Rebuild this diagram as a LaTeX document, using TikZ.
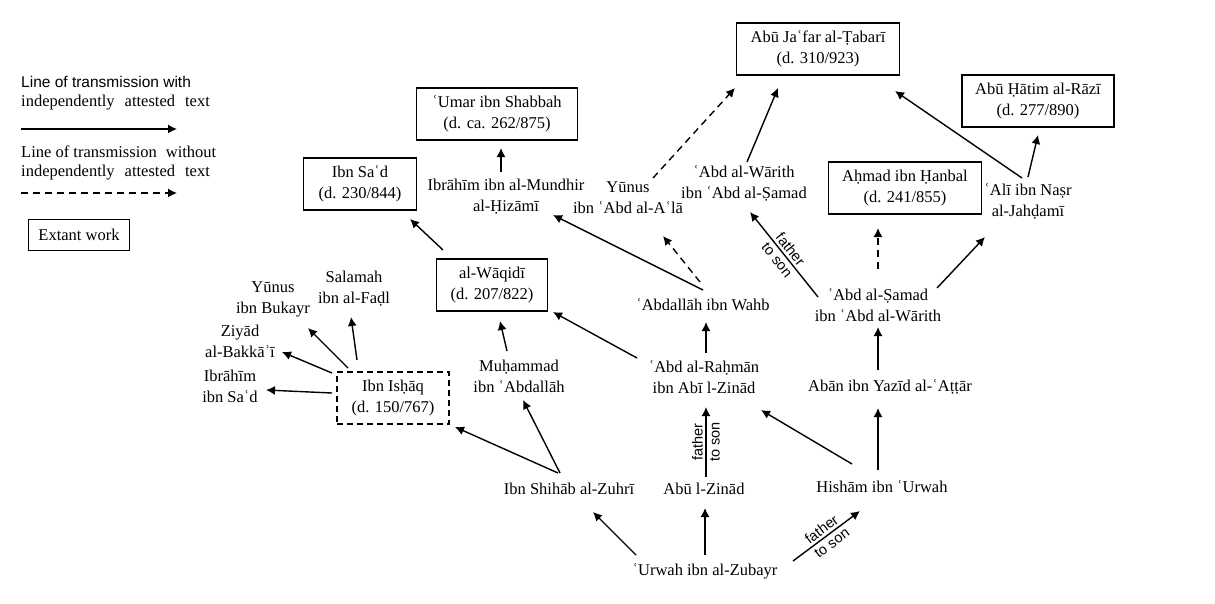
\documentclass[tikz,border=0pt]{standalone}
\usepackage{fontspec}
\setmainfont{Liberation Serif}
\setsansfont{Liberation Sans}
\usetikzlibrary{arrows.meta,calc}

\newcommand\namesize{\fontsize{16.5}{21}\selectfont}
\newcommand\kinsize{\fontsize{14.5}{17}\sffamily\selectfont}

\tikzset{
  person/.style={font=\namesize, align=center, inner sep=1pt},
  work/.style={person, draw, line width=1.5pt, minimum height=52},
  lostwork/.style={work, dash pattern=on 6pt off 4pt},
  link/.style={line width=1.4pt, -{Latex[length=9pt,width=9pt]}},
  guess/.style={link, dash pattern=on 7pt off 5pt},
  kin/.style={font=\kinsize, align=center, sloped, inner sep=0pt}
}

\begin{document}
\begin{tikzpicture}[x=1pt, y=-1pt]
\useasboundingbox (0,0) rectangle (1215,603);

\node[anchor=north west, align=left, inner sep=0pt, font=\fontsize{16.5}{19}\selectfont] (keyfull) at (21,76)
  {{\sffamily\fontsize{15.5}{19}\selectfont Line of transmission with}\\independently\hspace{10pt}attested\hspace{10pt}text};
\coordinate (fullA) at (21,129);
\coordinate (fullB) at (177,129);
\draw[link] (fullA) -- (fullB);
\node[anchor=north west, align=left, inner sep=0pt, font=\fontsize{16.5}{19}\selectfont] (keyguess) at (21,146)
  {Line of transmission\hspace{9pt}without\\independently\hspace{10pt}attested\hspace{10pt}text};
\coordinate (guessA) at (21,193);
\coordinate (guessB) at (177,193);
\draw[guess] (guessA) -- (guessB);
\node[work, minimum width=101, minimum height=31] (extant) at (79,235) {Extant work};

\node[work, minimum width=163] (tabari) at (818,49) {Abū Jaʿfar al-Ṭabarī\\(d. 310/923)};
\node[work, minimum width=161] (shabbah) at (497,114) {ʿUmar ibn Shabbah\\(d. ca. 262/875)};
\node[work, minimum width=113] (ibnsad) at (360,184) {Ibn Saʿd\\(d. 230/844)};
\node[work, minimum width=152] (razi) at (1038,101) {Abū Ḥātim al-Rāzī\\(d. 277/890)};
\node[work, minimum width=153] (hanbal) at (905,188) {Aḥmad ibn Ḥanbal\\(d. 241/855)};
\node[work, minimum width=111] (waqidi) at (492,285) {al-Wāqidī\\(d. 207/822)};
\node[lostwork, minimum width=112] (ishaq) at (393,398) {Ibn Isḥāq\\(d. 150/767)};

\node[person] (mundhir) at (506,197) {Ibrāhīm ibn al-Mundhir\\al-Ḥizāmī};
\node[person] (yunusa) at (628,198) {Yūnus\\ibn ʿAbd al-Aʿlā};
\node[person] (warith) at (744,183) {ʿAbd al-Wārith\\ibn ʿAbd al-Ṣamad};
\node[person] (nasr) at (1028,201) {ʿAlī ibn Naṣr\\al-Jahḍamī};
\node[person] (wahb) at (703,305) {ʿAbdallāh ibn Wahb};
\node[person] (samad) at (878,305) {ʿAbd al-Ṣamad\\ibn ʿAbd al-Wārith};
\node[person] (bukayr) at (273,299) {Yūnus\\ibn Bukayr};
\node[person] (salamah) at (354,289) {Salamah\\ibn al-Faḍl};
\node[person] (ziyad) at (240,341) {Ziyād\\al-Bakkāʾī};
\node[person] (ibrahim) at (230,386) {Ibrāhīm\\ibn Saʿd};
\node[person] (muhammad) at (519,376) {Muḥammad\\ibn ʿAbdallāh};
\node[person] (rahman) at (704,377) {ʿAbd al-Raḥmān\\ibn Abī l-Zinād};
\node[person] (aban) at (890,387) {Abān ibn Yazīd al-ʿAṭṭār};
\node[person] (shihab) at (569,489) {Ibn Shihāb al-Zuhrī};
\node[person] (zinad) at (704,489) {Abū l-Zinād};
\node[person] (hisham) at (882,487) {Hishām ibn ʿUrwah};
\node[person] (urwah) at (705,571) {ʿUrwah ibn al-Zubayr};

\draw[link] ($(urwah)+(-69,-16)$) -- ($(shihab)+(24,23)$);
\draw[link] ($(urwah)+(0,-16)$) -- ($(zinad)+(1,19)$);
\draw[link] ($(urwah)+(88,-10)$) -- node[kin] {father\\to son} ($(hisham)+(-22,24)$);
\draw[link] ($(zinad)+(2,-12)$) -- node[kin] {father\\to son} ($(rahman)+(2,30)$);
\draw[link] ($(hisham)+(-30,-23)$) -- ($(rahman)+(57,33)$);
\draw[link] ($(hisham)+(-4,-17)$) -- ($(aban)+(-12,21)$);
\draw[link] ($(aban)+(-12,-17)$) -- ($(samad)+(0,22)$);
\draw[link] ($(samad)+(-60,-8)$) -- node[kin] {father\\to son} ($(warith)+(6,29)$);
\draw[guess] ($(samad)+(0,-36)$) -- ($(hanbal)+(-27,40)$);
\draw[link] ($(samad)+(59,-17)$) -- ($(nasr)+(-43,36)$);
\draw[link] ($(nasr)+(0,-24)$) -- ($(razi)+(0,34)$);
\draw[link] ($(nasr)+(-6,-23)$) -- ($(tabari)+(77,42)$);
\draw[link] ($(warith)+(3,-21)$) -- ($(tabari)+(-40,39)$);
\draw[guess] ($(yunusa)+(25,-20)$) -- ($(tabari)+(-83,39)$);
\draw[guess] ($(wahb)+(-3,-23)$) -- ($(yunusa)+(35,38)$);
\draw[link] ($(wahb)+(0,-15)$) -- ($(mundhir)+(47,18)$);
\draw[link] ($(mundhir)+(-5,-25)$) -- ($(shabbah)+(4,34)$);
\draw[link] ($(rahman)+(2,-24)$) -- ($(wahb)+(3,17)$);
\draw[link] ($(rahman)+(-67,-19)$) -- ($(waqidi)+(61,27)$);
\draw[link] ($(muhammad)+(-12,-25)$) -- ($(waqidi)+(8,36)$);
\draw[link] ($(waqidi)+(-49,-35)$) -- ($(ibnsad)+(50,35)$);
\draw[link] ($(shihab)+(-9,-16)$) -- ($(muhammad)+(4,24)$);
\draw[link] ($(shihab)+(-11,-16)$) -- ($(ishaq)+(62,29)$);
\draw[link] ($(ishaq)+(-45,-30)$) -- ($(bukayr)+(35,29)$);
\draw[link] ($(ishaq)+(-36,-38)$) -- ($(salamah)+(-3,28)$);
\draw[link] ($(ishaq)+(-61,-25)$) -- ($(ziyad)+(42,11)$);
\draw[link] ($(ishaq)+(-61,-5)$) -- ($(ibrahim)+(36,4)$);
\end{tikzpicture}
\end{document}
